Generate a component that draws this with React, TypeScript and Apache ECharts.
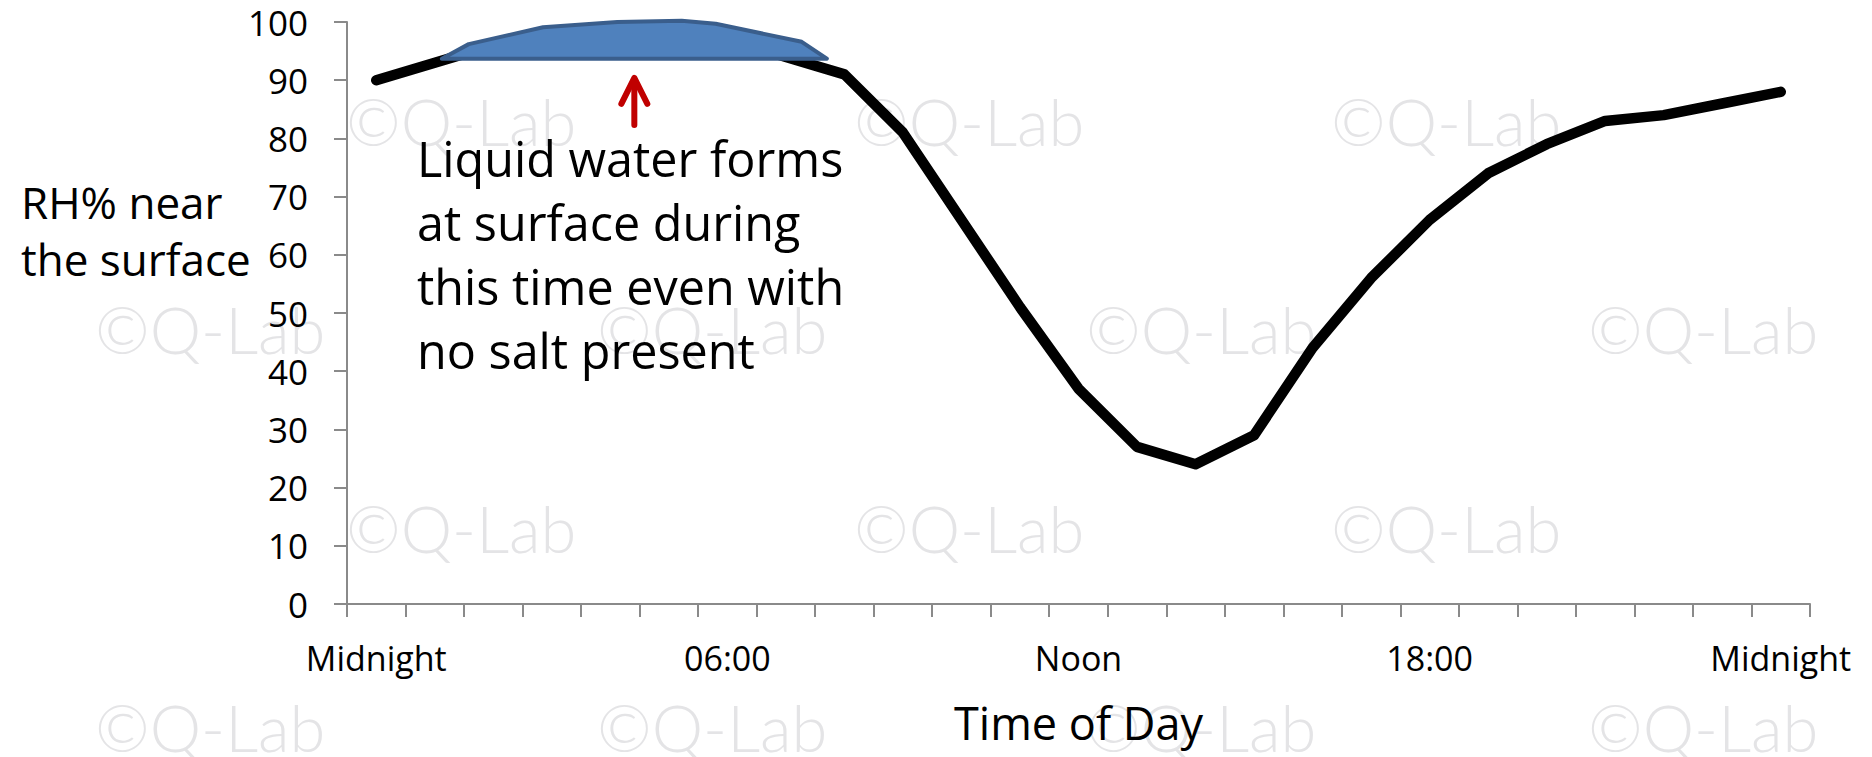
import React, { useEffect, useRef } from "react";
import * as echarts from "echarts";

// ---- data ----
const hourCategories = [
  "00:00", "01:00", "02:00", "03:00", "04:00", "05:00", "06:00", "07:00", "08:00",
  "09:00", "10:00", "11:00", "12:00", "13:00", "14:00", "15:00", "16:00", "17:00",
  "18:00", "19:00", "20:00", "21:00", "22:00", "23:00", "24:00",
];
const rhValues = [90, 93, 96, 97, 98, 98, 97, 94, 91, 81, 66, 51, 37, 27, 24, 29, 44, 56, 66, 74, 79, 83, 84, 86, 88];
const tickLabels = ["Midnight", "06:00", "Noon", "18:00", "Midnight"];
const yTicks = [0, 10, 20, 30, 40, 50, 60, 70, 80, 90, 100];

// wet-surface highlight outline (hour, RH%)
const wetHours = [1.12, 1.58, 2.85, 4.12, 5.22, 5.8, 7.27, 7.7];
const wetRH = [93.7, 96.2, 99.1, 100.0, 100.2, 99.7, 96.6, 93.7];
// arrow (hour, from RH, to RH)
const arrowHour = [4.41];
const arrowFrom = [82.3];
const arrowTo = [90.4];

const annotationLines = [
  "Liquid water forms",
  "at surface during",
  "this time even with",
  "no salt present",
];
const yTitleLines = ["RH% near", "the surface"];
const xTitle = "Time of Day";
const watermarkText = "©Q-Lab";

// watermark layout (left x, baseline y) – decoration only
const watermarkRows = [
  { y: 146, xs: [346, 854, 1331] },
  { y: 354, xs: [95, 597, 1086, 1588] },
  { y: 553, xs: [346, 854, 1331] },
  { y: 752, xs: [95, 597, 1086, 1588] },
];

const FONT = '"Open Sans", "Noto Sans", sans-serif';

export default function App() {
  const ref = useRef<HTMLDivElement>(null);

  useEffect(() => {
    if (!ref.current) return;
    const chart = echarts.init(ref.current, undefined, { renderer: "svg" });

    const wetData = wetHours.map((h, i) => [h, wetRH[i]]);
    const arrowData = arrowHour.map((h, i) => [h, arrowFrom[i], arrowTo[i]]);

    const watermarks: any[] = [];
    watermarkRows.forEach((row) => {
      row.xs.forEach((x) => {
        watermarks.push({
          type: "text",
          z: -10,
          silent: true,
          style: {
            x,
            y: row.y - 25,
            text: watermarkText,
            fill: "#E4E4E6",
            font: '300 65px Lato, "Open Sans", sans-serif',
            textAlign: "left",
            textVerticalAlign: "middle",
          },
        });
      });
    });

    const option: any = {
      animation: false,
      backgroundColor: "#ffffff",
      grid: { left: 347, right: 62, top: 22, bottom: 153, containLabel: false },
      xAxis: [
        {
          type: "category",
          data: hourCategories,
          boundaryGap: true,
          axisLine: { show: true, onZero: false, lineStyle: { color: "#8A8A8A", width: 2 } },
          axisTick: { show: true, interval: 0, length: 13, lineStyle: { color: "#8A8A8A", width: 2 } },
          axisLabel: {
            interval: 5,
            margin: 37,
            color: "#000",
            fontSize: 34,
            fontFamily: FONT,
            formatter: (_v: string, idx: number) => tickLabels[idx / 6] ?? "",
          },
          splitLine: { show: false },
          name: xTitle,
          nameLocation: "middle",
          nameGap: 96,
          nameTextStyle: { color: "#000", fontSize: 45, fontFamily: FONT },
        },
        {
          type: "value",
          show: false,
          min: -0.5,
          max: 24.5,
          gridIndex: 0,
          splitLine: { show: false },
        },
      ],
      yAxis: {
        type: "value",
        min: yTicks[0],
        max: yTicks[yTicks.length - 1],
        interval: 10,
        axisLine: { show: true, onZero: false, lineStyle: { color: "#8A8A8A", width: 2 } },
        axisTick: { show: true, length: 13, lineStyle: { color: "#8A8A8A", width: 2 } },
        axisLabel: { margin: 39, color: "#000", fontSize: 35, fontFamily: FONT },
        splitLine: { show: false },
      },
      graphic: [
        ...watermarks,
        {
          type: "text",
          z: 20,
          style: {
            x: 21,
            y: 173,
            text: yTitleLines.join("\n"),
            fill: "#000",
            font: `44px ${FONT}`,
            lineHeight: 57,
            textAlign: "left",
            textVerticalAlign: "top",
          },
        },
        {
          type: "text",
          z: 20,
          style: {
            x: 417,
            y: 126,
            text: annotationLines.join("\n"),
            fill: "#000",
            font: `48.5px ${FONT}`,
            lineHeight: 64,
            textAlign: "left",
            textVerticalAlign: "top",
          },
        },
      ],
      series: [
        {
          type: "line",
          data: rhValues,
          xAxisIndex: 0,
          yAxisIndex: 0,
          symbol: "none",
          showSymbol: false,
          z: 3,
          lineStyle: { color: "#000", width: 10.5, cap: "round", join: "round" },
        },
        {
          type: "custom",
          xAxisIndex: 1,
          yAxisIndex: 0,
          clip: false,
          z: 4,
          data: wetData,
          renderItem: (params: any, api: any) => {
            if (params.dataIndex !== 0) return null;
            const pts = wetData.map((p) => api.coord(p));
            return {
              type: "polygon",
              shape: { points: pts },
              style: { fill: "#4F81BD", stroke: "#3A5E8C", lineWidth: 4, lineJoin: "round" },
            };
          },
        },
        {
          type: "custom",
          xAxisIndex: 1,
          yAxisIndex: 0,
          clip: false,
          z: 5,
          data: arrowData,
          renderItem: (_params: any, api: any) => {
            const base = api.coord([api.value(0), api.value(1)]);
            const tip = api.coord([api.value(0), api.value(2)]);
            const style = { stroke: "#C00000", lineWidth: 6, lineCap: "round", lineJoin: "round", fill: null };
            return {
              type: "group",
              children: [
                { type: "line", shape: { x1: base[0], y1: base[1], x2: tip[0], y2: tip[1] + 2 }, style },
                {
                  type: "polyline",
                  shape: { points: [[tip[0] - 13, tip[1] + 26], [tip[0], tip[1]], [tip[0] + 13, tip[1] + 26]] },
                  style,
                },
              ],
            };
          },
        },
      ],
    };

    chart.setOption(option);
    return () => chart.dispose();
  }, []);

  return (
    <div
      ref={ref}
      style={{ position: "fixed", left: 0, top: 0, width: "1872px", height: "757px", background: "#fff" }}
    />
  );
}
